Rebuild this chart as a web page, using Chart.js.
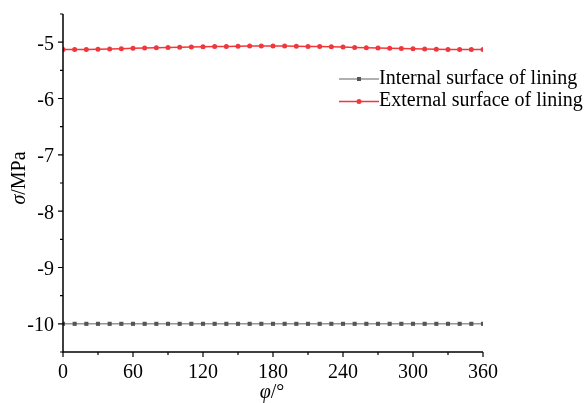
<!DOCTYPE html>
<html>
<head>
<meta charset="utf-8">
<script src="https://cdn.jsdelivr.net/npm/chart.js@4.4.0/dist/chart.umd.min.js"></script>
<style>
    html, body { margin: 0; padding: 0; background: #fff; }
    #box { width: 587px; height: 403px; }
</style>
</head>
<body>
<div id="box"><canvas id="myChart"></canvas></div>
<script>
// ângulos (graus)
const angulos = [0, 10, 20, 30, 40, 50, 60, 70, 80, 90, 100, 110, 120, 130, 140, 150, 160, 170, 180,
    190, 200, 210, 220, 230, 240, 250, 260, 270, 280, 290, 300, 310, 320, 330, 340, 350, 360];

const interna = [-10, -10, -10, -10, -10, -10, -10, -10, -10, -10, -10, -10, -10, -10, -10, -10, -10, -10, -10,
    -10, -10, -10, -10, -10, -10, -10, -10, -10, -10, -10, -10, -10, -10, -10, -10, -10, -10];

const externa = [-5.13, -5.13, -5.13, -5.125, -5.12, -5.115, -5.11, -5.105, -5.1, -5.095, -5.09, -5.085, -5.08,
    -5.078, -5.075, -5.073, -5.07, -5.07, -5.07, -5.07, -5.072, -5.075, -5.078, -5.083, -5.088, -5.093,
    -5.098, -5.103, -5.108, -5.113, -5.118, -5.122, -5.125, -5.128, -5.13, -5.13, -5.13];

const xTicks = [0, 60, 120, 180, 240, 300, 360];
const xMinor = [30, 90, 150, 210, 270, 330];
const yTicks = [-10, -9, -8, -7, -6, -5];
const yMinor = [-10.5, -9.5, -8.5, -7.5, -6.5, -5.5, -4.5];

const fonte = '"Liberation Serif", "Times New Roman", serif';
const tam = '20px ';
const corInterna = 'rgb(85, 85, 85)';
const corExterna = 'rgb(240, 55, 60)';

function montarPontos(ys) {
    return angulos.map((a, i) => ({ x: a, y: ys[i] }));
}

// eixos, ticks, títulos e legenda desenhados à mão
const desenhoExtra = {
    id: 'desenhoExtra',
    afterDraw(chart) {
        const c = chart.ctx;
        const area = chart.chartArea;
        const sx = chart.scales.x;
        const sy = chart.scales.y;
        c.save();
        c.strokeStyle = '#000';
        c.lineWidth = 1.5;
        c.beginPath();
        c.moveTo(area.left, area.top);
        c.lineTo(area.left, area.bottom);
        c.lineTo(area.right, area.bottom);
        c.stroke();

        c.lineWidth = 1.2;
        c.beginPath();
        xTicks.forEach(v => { const p = sx.getPixelForValue(v); c.moveTo(p, area.bottom); c.lineTo(p, area.bottom + 5); });
        xMinor.forEach(v => { const p = sx.getPixelForValue(v); c.moveTo(p, area.bottom); c.lineTo(p, area.bottom + 3); });
        yTicks.forEach(v => { const p = sy.getPixelForValue(v); c.moveTo(area.left, p); c.lineTo(area.left - 5, p); });
        yMinor.forEach(v => { const p = sy.getPixelForValue(v); c.moveTo(area.left, p); c.lineTo(area.left - 3, p); });
        c.stroke();

        c.fillStyle = '#000';
        c.font = tam + fonte;
        c.textBaseline = 'alphabetic';
        c.textAlign = 'right';
        yTicks.forEach(v => c.fillText(String(v), area.left - 9, sy.getPixelForValue(v) + 7.5));
        c.textAlign = 'center';
        xTicks.forEach(v => c.fillText(String(v), sx.getPixelForValue(v), area.bottom + 26));

        // título x
        c.textAlign = 'left';
        c.font = 'italic ' + tam + fonte;
        const w1 = c.measureText('φ').width;
        c.font = tam + fonte;
        const w2 = c.measureText('/°').width;
        let x0 = 272 - (w1 + w2) / 2;
        c.font = 'italic ' + tam + fonte;
        c.fillText('φ', x0, 398);
        c.font = tam + fonte;
        c.fillText('/°', x0 + w1, 398);

        // título y
        c.save();
        c.translate(25, 178);
        c.rotate(-Math.PI / 2);
        c.font = 'italic ' + tam + fonte;
        const s1 = c.measureText('σ').width;
        c.font = tam + fonte;
        const s2 = c.measureText('/MPa').width;
        x0 = -(s1 + s2) / 2;
        c.font = 'italic ' + tam + fonte;
        c.fillText('σ', x0, 0);
        c.font = tam + fonte;
        c.fillText('/MPa', x0 + s1, 0);
        c.restore();

        // legenda
        const itens = [
            { texto: 'Internal surface of lining', linha: 'rgb(150, 150, 150)', cor: corInterna, forma: 'rect', y: 79 },
            { texto: 'External surface of lining', linha: corExterna, cor: corExterna, forma: 'circle', y: 101.5 }
        ];
        itens.forEach(it => {
            c.strokeStyle = it.linha;
            c.lineWidth = 1.5;
            c.beginPath();
            c.moveTo(339, it.y);
            c.lineTo(379, it.y);
            c.stroke();
            c.fillStyle = it.cor;
            if (it.forma === 'rect') {
                c.fillRect(357, it.y - 2, 4, 4);
            } else {
                c.beginPath();
                c.arc(359, it.y, 2.5, 0, Math.PI * 2);
                c.fill();
            }
            c.fillStyle = '#000';
            c.font = tam + fonte;
            c.textAlign = 'left';
            c.textBaseline = 'alphabetic';
            c.fillText(it.texto, 379, it.y + 4.5);
        });
        c.restore();
    }
};

new Chart(document.getElementById('myChart'), {
    type: 'scatter',
    data: {
        datasets: [
            {
                label: 'Internal surface of lining',
                data: montarPontos(interna),
                showLine: true,
                borderColor: 'rgb(150, 150, 150)',
                borderWidth: 1.5,
                pointStyle: 'rect',
                pointRadius: 2.9,
                pointBackgroundColor: corInterna,
                pointBorderWidth: 0
            },
            {
                label: 'External surface of lining',
                data: montarPontos(externa),
                showLine: true,
                borderColor: corExterna,
                borderWidth: 1.5,
                pointStyle: 'circle',
                pointRadius: 2.5,
                pointBackgroundColor: corExterna,
                pointBorderWidth: 0
            }
        ]
    },
    options: {
        responsive: true,
        maintainAspectRatio: false,
        animation: false,
        layout: { padding: { left: 0, right: 104, top: 14, bottom: 0 } },
        plugins: {
            legend: { display: false },
            tooltip: { enabled: false }
        },
        scales: {
            x: {
                type: 'linear',
                min: 0,
                max: 360,
                grid: { display: false },
                border: { display: false },
                ticks: { display: false },
                afterFit(scale) { scale.height = 51; }
            },
            y: {
                type: 'linear',
                min: -10.5,
                max: -4.5,
                grid: { display: false },
                border: { display: false },
                ticks: { display: false },
                afterFit(scale) { scale.width = 63; }
            }
        }
    },
    plugins: [desenhoExtra]
});
</script>
</body>
</html>
